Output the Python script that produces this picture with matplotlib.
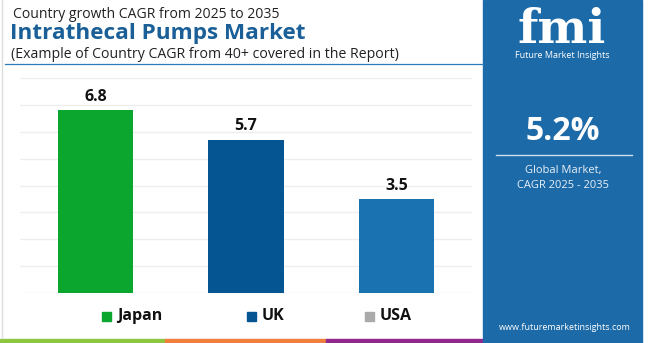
import matplotlib.pyplot as plt
from matplotlib.patches import Rectangle
from matplotlib.lines import Line2D
import numpy as np

# data
countries = ['Japan', 'UK', 'USA']
cagr = [6.8, 5.7, 3.5]
bar_colors = ['#0aa62e', '#045592', '#1a73b0']
legend_colors = ['#0aa62e', '#045592', '#aaaaaa']
global_cagr = '5.2%'

W, H = 650, 343
plt.rcParams['font.family'] = ['Open Sans', 'DejaVu Sans']

fig = plt.figure(figsize=(6.5, 3.43), dpi=100)
fig.patch.set_facecolor('white')


def fx(x):
    return x / W


def fy(y):
    return 1 - y / H


# bar chart
ax = fig.add_axes([fx(20), fy(293), fx(452), 215 / H])
x = np.arange(len(countries))
ax.bar(x, cagr, width=0.5, color=bar_colors, zorder=3)
for xi, v in zip(x, cagr):
    ax.text(xi, v + 0.2, f'{v}', ha='center', va='bottom',
            fontsize=11.5, fontweight='bold', color='#111111')
ax.set_xlim(-0.5, 2.5)
ax.set_ylim(0, 8)
ax.set_yticks(np.arange(0, 9))
ax.grid(axis='y', color='#eeeeee', linewidth=1, zorder=0)
ax.tick_params(left=False, bottom=False, labelleft=False, labelbottom=False)
for s in ax.spines.values():
    s.set_visible(False)

# titles
fig.text(fx(13), fy(15), 'Country growth CAGR from 2025 to 2035',
         fontsize=10.1, color='#222222', va='center', ha='left')
fig.text(fx(10), fy(34), 'Intrathecal Pumps Market',
         fontsize=16.2, fontweight='bold', color='#1a5f97', va='center', ha='left')
fig.text(fx(11), fy(54), '(Example of Country CAGR from 40+ covered in the Report)',
         fontsize=10.2, color='#222222', va='center', ha='left')
fig.add_artist(Line2D([fx(5), fx(483)], [fy(64), fy(64)], color='#2a7ab8', lw=0.9))

# left border
fig.add_artist(Line2D([fx(2), fx(2)], [fy(0), fy(338)], color='#dddddd', lw=1))

# legend
leg_x = [102, 247, 365]
for name, c, lx in zip(countries, legend_colors, leg_x):
    fig.add_artist(Rectangle((fx(lx), fy(321)), fx(9), 9 / H, color=c))
    fig.text(fx(lx + 15), fy(316), name, fontsize=11.5, fontweight='bold',
             color='#111111', va='center', ha='left')

# bottom stripes
stripes = [(0, 165, '#8dc63f'), (165, 326, '#f07f3c'), (326, 483, '#92278f')]
for x0, x1, c in stripes:
    fig.add_artist(Rectangle((fx(x0), 0), fx(x1 - x0), 4 / H, color=c))

# right panel
fig.add_artist(Rectangle((fx(483), 0), fx(159), 1, color='#1d6aa8'))
fig.text(fx(562), fy(30), 'fmi', fontsize=34, fontweight='bold', color='white',
         ha='center', va='center', family='DejaVu Serif')
fig.text(fx(562), fy(56), 'Future Market Insights', fontsize=6.5, color='white',
         ha='center', va='center')
fig.text(fx(563), fy(131), global_cagr, fontsize=23, fontweight='bold', color='white',
         ha='center', va='center')
fig.add_artist(Line2D([fx(496), fx(632)], [fy(155), fy(155)], color='#d0e0ee', lw=1))
fig.text(fx(563), fy(171), 'Global Market,', fontsize=8, color='#e8f0f8',
         ha='center', va='center')
fig.text(fx(563), fy(185), 'CAGR 2025 - 2035', fontsize=8, color='#e8f0f8',
         ha='center', va='center')
fig.text(fx(565), fy(328), 'www.futuremarketinsights.com', fontsize=6.5, color='white',
         ha='center', va='center')

fig.savefig('out.png', dpi=100, facecolor='white')
